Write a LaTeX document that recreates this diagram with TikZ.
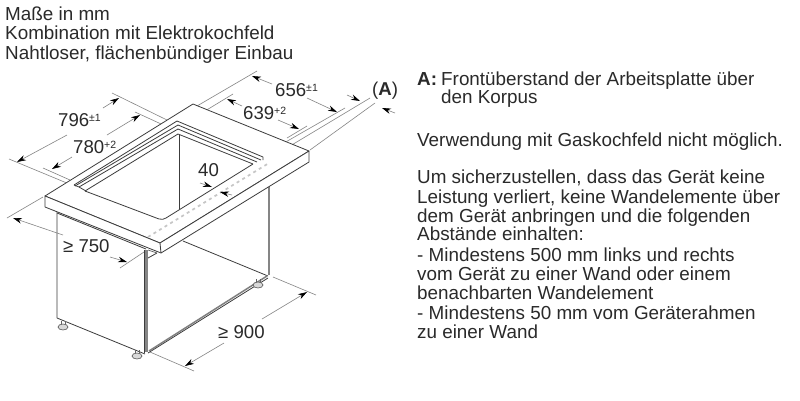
\documentclass[tikz,border=0pt]{standalone}
\usepackage{fontspec}
\setmainfont{Liberation Sans}
\usetikzlibrary{arrows.meta}
\definecolor{ink}{HTML}{3C3C3C}
\definecolor{dimc}{HTML}{858585}
\definecolor{txt}{HTML}{2A2A2A}
\tikzset{
 x=1pt,y=-1pt,
 outline/.style={draw=ink,line width=0.8pt,line join=round},
 thinoutline/.style={draw=ink!80,line width=0.7pt,line join=round},
 postline/.style={draw=dimc,line width=2.6pt},
 dimline/.style={draw=dimc,line width=0.6pt},
 arrowline/.style={dimline,-{Stealth[length=9pt,width=5.5pt,fill=black,black]}},
 dashline/.style={draw=gray!45,line width=1.7pt,dash pattern=on 3pt off 3.5pt},
 dimlabel/.style={inner sep=0pt,anchor=west,text=txt,font=\fontsize{18.6}{18.6}\selectfont},
 txtline/.style={inner sep=0pt,anchor=base west,text=txt,font=\fontsize{18.85}{19}\selectfont}
}
\newcommand{\supr}[1]{\raisebox{5pt}{\fontsize{10.5}{10.5}\selectfont #1}}
\begin{document}
\begin{tikzpicture}
\useasboundingbox (0,0) rectangle (800,400);
\fill[white] (0,0) rectangle (800,400);
% named points
\coordinate (cl) at (45,196); \coordinate (cf) at (160,243); \coordinate (cr) at (309,151); \coordinate (cb) at (193,104);
\coordinate (cl2) at (45,207); \coordinate (cf2) at (161,253); \coordinate (cr2) at (309,162);
% dimension extension lines
\draw[dimline] (112,93) -- (167,120);
\draw[dimline] (135,112) -- (172,129);
\draw[dimline] (9,159) -- (74,186);
\draw[dimline] (43,168) -- (70,180);
\draw[dimline] (7,218) -- (43,197);
\draw[dimline] (120,268) -- (147,250);
\draw[dimline] (257,71) -- (197,106);
\draw[dimline] (233,94) -- (205,111);
\draw[dimline] (345,108) -- (263,155);
\draw[dimline] (307,126) -- (287,138);
\draw[dimline] (370,98) -- (270,158);
\draw[dimline] (375,103) -- (310,150);
\draw[dimline] (273,277) -- (316,295);
\draw[dimline] (150,352) -- (194,371);
% cabinet
\draw[postline] (146.2,250) -- (146.2,352);
\draw[outline] (144.6,250) -- (144.6,353);
\draw[postline] (269,186) -- (269,275);
\draw[outline] (57,211) -- (57,318) -- (145,354);
\draw[outline] (57,213) -- (146,249);
\draw[outline] (183,241) -- (268,276);
\draw[outline] (148,353) -- (268,278);
\draw[thinoutline,line width=1.5pt,draw=gray] (149,351) -- (267,276);
\draw[outline] (148,258) -- (157,253);
\draw[thinoutline] (148,250) -- (157,253);
% feet
\foreach \n/\fx/\fy in {fa/63/326,fb/137/355,fc/258/284}{
 \draw[thinoutline,fill=gray!40] (\fx-2,\fy-5) -- (\fx-2,\fy) (\fx+2,\fy-5) -- (\fx+2,\fy);
 \draw[thinoutline,fill=gray!30] (\fx,\fy+1) ellipse (5 and 3);
}
% countertop
\draw[outline,fill=white] (cl) -- (cf) -- (cr) -- (cb) -- cycle;
\draw[outline,fill=white] (cl) -- (cl2) -- (cf2) -- (cr2) -- (cr) -- (cf) -- cycle;
\draw[outline] (cf) -- (cf2);
% cut-out frame
\draw[outline] (74,185) -- (177,121) -- (263,157) -- (263,160);
\draw[outline] (75,186) -- (178,125) -- (261,160);
\draw[outline] (79,187) -- (178,129) -- (257,162);
\draw[outline] (74,185) -- (79,187) -- (86,191);
\draw[outline] (85,191) -- (178,134) -- (253,164);
\draw[outline] (85,191) -- (159,219) .. controls (162,220) and (164,219) .. (166,218) -- (253,164);
\draw[outline] (179,135) -- (179,209);
% dashed
\draw[dashline] (148,237) -- (269,163);
% dimension arrows
\draw[arrowline] (67,135) -- (17,162);
\draw[arrowline] (103,108) -- (119,98);
\draw[arrowline] (72,157) -- (52,169);
\draw[arrowline] (107,135) -- (140,115);
\draw[arrowline] (272,84) -- (252,76);
\draw[arrowline] (307,98) -- (337,112);
\draw[arrowline] (242,106) -- (227,99);
\draw[arrowline] (278,120) -- (299,129);
\draw[arrowline] (347,95) -- (360,101);
\draw[arrowline] (395,113) -- (382,108);
\draw[arrowline] (200,183) -- (212,187);
\draw[arrowline] (232,195) -- (220,192);
\draw[arrowline] (63,235) -- (13,218);
\draw[arrowline] (110,257) -- (127,262);
\draw[arrowline] (262,319) -- (307,292);
\draw[arrowline] (224,343) -- (185,366);
% dimension labels
\node[dimlabel] (d796) at (58,120) {796\supr{±1}};
\node[dimlabel] (d780) at (73,147) {780\supr{+2}};
\node[dimlabel] (d656) at (275,90) {656\supr{±1}};
\node[dimlabel] (d639) at (243,113) {639\supr{+2}};
\node[dimlabel] (dA) at (372,91) {(\textbf{A})};
\node[dimlabel] (d40) at (198,170) {40};
\node[dimlabel] (d750) at (63,246) {≥ 750};
\node[dimlabel] (d900) at (218,332) {≥ 900};
% header
\node[txtline] (h1) at (5,20) {Maße in mm};
\node[txtline] (h2) at (5,39.5) {Kombination mit Elektrokochfeld};
\node[txtline] (h3) at (5,59) {Nahtloser, flächenbündiger Einbau};
% right text
\node[txtline] (t1) at (417,85) {\textbf{A:}};
\node[txtline] (t1b) at (441,85) {Frontüberstand der Arbeitsplatte über};
\node[txtline] (t2) at (441,103) {den Korpus};
\node[txtline] (t3) at (417,146) {Verwendung mit Gaskochfeld nicht möglich.};
\node[txtline] (t4) at (417,183) {Um sicherzustellen, dass das Gerät keine};
\node[txtline] (t5) at (417,203) {Leistung verliert, keine Wandelemente über};
\node[txtline] (t6) at (417,222) {dem Gerät anbringen und die folgenden};
\node[txtline] (t7) at (417,240) {Abstände einhalten:};
\node[txtline] (t8) at (417,261) {- Mindestens 500 mm links und rechts};
\node[txtline] (t9) at (417,280) {vom Gerät zu einer Wand oder einem};
\node[txtline] (t10) at (417,299) {benachbarten Wandelement};
\node[txtline] (t11) at (417,319) {- Mindestens 50 mm vom Geräterahmen};
\node[txtline] (t12) at (417,338) {zu einer Wand};
\end{tikzpicture}
\end{document}
